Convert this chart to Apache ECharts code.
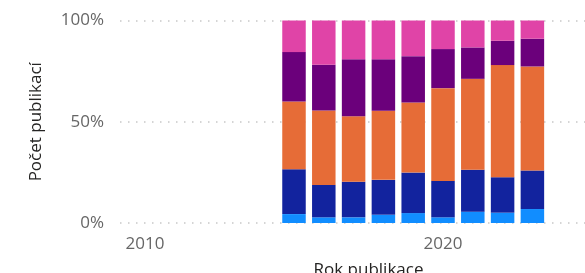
<!DOCTYPE html>
<html>
<head>
<meta charset="utf-8">
<script src="https://cdn.jsdelivr.net/npm/echarts@6/dist/echarts.min.js"></script>
<style>
  html, body { margin: 0; padding: 0; background: #fff; }
  #chart { width: 585px; height: 273px; }
</style>
</head>
<body>
<div id="chart"></div>
<script>
// roky na ose x (kategorie) a roky s daty
var axisYears = ['2010', '2011', '2012', '2013', '2014', '2015', '2016', '2017',
  '2018', '2019', '2020', '2021', '2022', '2023', '2024', '2025'];
var years = ['2015', '2016', '2017', '2018', '2019', '2020', '2021', '2022', '2023'];
var xTicks = ['2010', '2020'];
var yTicks = [0, 50, 100];

// podíly v procentech, odspodu nahoru
var seriesNames = ['A', 'B', 'C', 'D', 'E'];
var share1 = [4.4, 2.8, 2.8, 4.1, 4.9, 2.8, 5.6, 5.1, 6.9];
var share2 = [22.1, 16.0, 17.6, 17.2, 20.0, 18.0, 20.7, 17.5, 19.0];
var share3 = [33.5, 36.7, 32.3, 34.1, 34.6, 45.8, 44.9, 55.4, 51.4];
var share4 = [24.4, 22.6, 28.2, 25.5, 22.9, 19.3, 15.5, 12.0, 13.7];
var share5 = [15.6, 21.9, 19.1, 19.1, 17.6, 14.1, 13.3, 10.0, 9.0];
var colors = ['#118DFF', '#12239E', '#E66C37', '#6B007B', '#E044A7'];

var font = "'Segoe UI', 'Open Sans', sans-serif";
var allShares = [share1, share2, share3, share4, share5];

var myChart = echarts.init(document.getElementById('chart'));
var option = {
  animation: false,
  // grid 0: osa y s mřížkou, grid 1: sloupce
  grid: [
    { left: 120, right: -30, top: 20.5, bottom: 50, outerBoundsMode: 'none' },
    { left: 130.1, right: -21.9, top: 20.5, bottom: 50, outerBoundsMode: 'none' }
  ],
  xAxis: [
    { type: 'value', gridIndex: 0, show: false },
    {
      type: 'category',
      gridIndex: 1,
      data: axisYears,
      name: 'Rok publikace',
      nameLocation: 'middle',
      nameGap: 39,
      nameTextStyle: { color: '#252423', fontSize: 17, fontFamily: font },
      axisLine: { show: false },
      axisTick: { show: false },
      splitLine: { show: false },
      axisLabel: {
        interval: function (idx, value) { return xTicks.indexOf(value) >= 0; },
        color: '#666',
        fontSize: 17,
        fontFamily: font,
        margin: 13
      }
    }
  ],
  yAxis: [
    {
      type: 'value',
      gridIndex: 0,
      min: 0,
      max: 100,
      interval: 50,
      name: 'Počet publikací',
      nameLocation: 'middle',
      nameGap: 75,
      nameTextStyle: { color: '#252423', fontSize: 17, fontFamily: font },
      axisLine: { show: false },
      axisTick: { show: false },
      splitLine: {
        lineStyle: { color: '#c8c8c8', width: 1.5, type: [1.5, 6.5] }
      },
      axisLabel: {
        formatter: '{value}%',
        color: '#666',
        fontSize: 17,
        fontFamily: font,
        margin: 16,
        padding: [4, 0, 0, 0]
      }
    },
    { type: 'value', gridIndex: 1, min: 0, max: 100, show: false, splitLine: { show: false } }
  ],
  series: allShares.map(function (s, i) {
    return {
      name: seriesNames[i],
      type: 'bar',
      stack: 'total',
      xAxisIndex: 1,
      yAxisIndex: 1,
      barWidth: 23.5,
      itemStyle: { color: colors[i] },
      data: years.map(function (y, j) { return [y, s[j]]; })
    };
  })
};
myChart.setOption(option);
</script>
</body>
</html>
